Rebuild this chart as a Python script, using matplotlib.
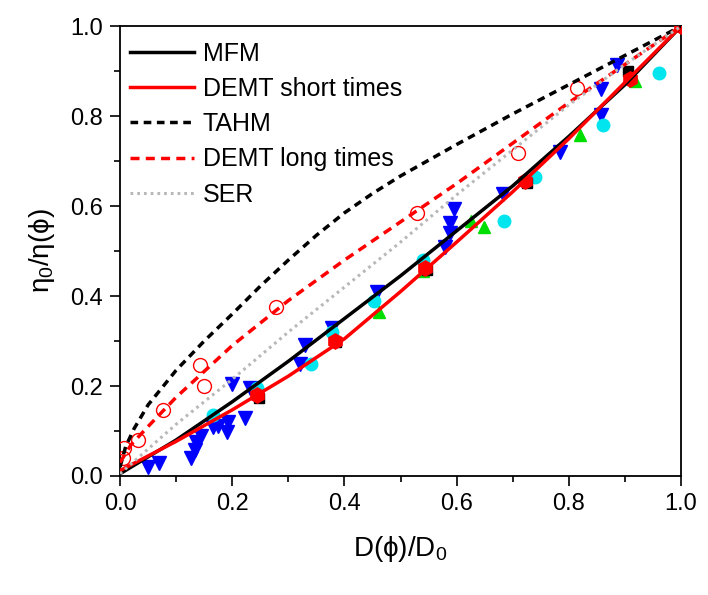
import matplotlib.pyplot as plt
import numpy as np

plt.rcParams['font.family'] = ['Liberation Sans', 'DejaVu Sans']
plt.rcParams['mathtext.fontset'] = 'custom'
plt.rcParams['mathtext.rm'] = 'Liberation Sans'
plt.rcParams['mathtext.it'] = 'Liberation Sans'

# model curves
mfm_x = [0.0, 0.1, 0.2, 0.3, 0.4, 0.5, 0.6, 0.7, 0.8, 0.9, 1.0]
mfm_y = [0.005, 0.08, 0.165, 0.255, 0.35, 0.445, 0.545, 0.645, 0.755, 0.87, 1.0]

short_x = [0.0, 0.1, 0.2, 0.3, 0.4, 0.5, 0.6, 0.7, 0.8, 0.9, 1.0]
short_y = [0.012, 0.077, 0.147, 0.222, 0.305, 0.41, 0.52, 0.632, 0.75, 0.875, 1.0]

tahm_x = [0.0, 0.01, 0.025, 0.05, 0.1, 0.15, 0.2, 0.25, 0.3, 0.35, 0.4, 0.45, 0.5,
          0.6, 0.7, 0.8, 0.9, 1.0]
tahm_y = [0.02, 0.065, 0.105, 0.158, 0.235, 0.3, 0.36, 0.422, 0.48, 0.535, 0.585,
          0.628, 0.667, 0.737, 0.805, 0.87, 0.935, 1.0]

long_x = [0.0, 0.02, 0.05, 0.1, 0.2, 0.3, 0.4, 0.5, 0.6, 0.7, 0.8, 0.9, 1.0]
long_y = [0.03, 0.07, 0.11, 0.175, 0.29, 0.39, 0.48, 0.565, 0.65, 0.74, 0.83, 0.915, 1.0]

ser_x = [0.0, 0.1, 0.2, 0.3, 0.4, 0.5, 0.6, 0.7, 0.8, 0.9, 1.0]
ser_y = [0.005, 0.115, 0.215, 0.32, 0.42, 0.52, 0.625, 0.725, 0.825, 0.915, 1.0]

# data points
blue_x = [0.05, 0.07, 0.127, 0.133, 0.136, 0.145, 0.166, 0.175, 0.19, 0.193, 0.222,
          0.2, 0.232, 0.32, 0.33, 0.378, 0.458, 0.58, 0.588, 0.588, 0.596, 0.683,
          0.785, 0.857, 0.857, 0.885]
blue_y = [0.02, 0.03, 0.04, 0.058, 0.075, 0.088, 0.108, 0.112, 0.097, 0.12, 0.13,
          0.205, 0.196, 0.249, 0.292, 0.33, 0.408, 0.51, 0.54, 0.562, 0.593, 0.626,
          0.72, 0.802, 0.86, 0.913]

cyan_x = [0.165, 0.245, 0.34, 0.378, 0.452, 0.54, 0.685, 0.74, 0.86, 0.96]
cyan_y = [0.135, 0.195, 0.25, 0.32, 0.39, 0.48, 0.568, 0.665, 0.78, 0.895]

green_x = [0.462, 0.54, 0.625, 0.648, 0.82, 0.918]
green_y = [0.365, 0.455, 0.566, 0.553, 0.758, 0.878]

sq_x = [0.247, 0.385, 0.548, 0.725, 0.906, 1.0]
sq_y = [0.174, 0.297, 0.457, 0.652, 0.9, 1.0]

hex_x = [0.244, 0.383, 0.544, 0.722, 0.909, 1.0]
hex_y = [0.179, 0.301, 0.462, 0.655, 0.882, 1.0]

open_x = [0.006, 0.008, 0.032, 0.077, 0.143, 0.15, 0.278, 0.53, 0.71, 0.815]
open_y = [0.04, 0.062, 0.08, 0.147, 0.247, 0.2, 0.376, 0.584, 0.717, 0.862]

fig = plt.figure(figsize=(7.08, 5.95), dpi=100)
ax = fig.add_axes([0.1695, 0.2, 0.7925, 0.756])

ax.plot(blue_x, blue_y, 'v', color='#0000ff', ms=10, mec='#0000ff', zorder=3)
ax.plot(cyan_x, cyan_y, 'o', color='#00e5ee', ms=9, mec='#00e5ee', zorder=3)
ax.plot(green_x, green_y, '^', color='#00dd00', ms=9, mec='#00dd00', zorder=3)
ax.plot(sq_x, sq_y, 's', color='black', ms=6.5, zorder=3)
ax.plot(hex_x, hex_y, 'h', color='#ff0000', ms=11, mec='#ff0000', zorder=4)
ax.plot(open_x, open_y, 'o', mfc='none', mec='#ff0000', ms=10, mew=1.0, zorder=4)

ax.plot(mfm_x, mfm_y, '-', color='black', lw=2.5, label='MFM', zorder=5)
ax.plot(short_x, short_y, '-', color='#ff0000', lw=2.5, label='DEMT short times', zorder=5)
ax.plot(tahm_x, tahm_y, color='black', lw=2.5, dashes=(2.2, 1.6), label='TAHM', zorder=5)
ax.plot(long_x, long_y, color='#ff0000', lw=2.5, dashes=(2.6, 1.8), label='DEMT long times', zorder=5)
ax.plot(ser_x, ser_y, color='#b8b8b8', lw=2.2, dashes=(0.9, 1.3), label='SER', zorder=5)

ax.set_xlim(0, 1)
ax.set_ylim(0, 1)
ax.set_xticks(np.arange(0, 1.01, 0.2))
ax.set_yticks(np.arange(0, 1.01, 0.2))
ax.set_xticks(np.arange(0.1, 1.0, 0.2), minor=True)
ax.set_yticks(np.arange(0.1, 1.0, 0.2), minor=True)
ax.xaxis.set_major_formatter(plt.FormatStrFormatter('%.1f'))
ax.yaxis.set_major_formatter(plt.FormatStrFormatter('%.1f'))
ax.tick_params(which='major', direction='out', length=7, width=1.2, labelsize=17, pad=5)
ax.tick_params(which='minor', direction='out', length=4, width=1.2)
for s in ax.spines.values():
    s.set_linewidth(1.3)

ax.set_xlabel(r'$\mathregular{D(\phi)/D_0}$', fontsize=20, labelpad=14)
ax.set_ylabel(r'$\mathregular{\eta_0/\eta(\phi)}$', fontsize=20, labelpad=10)

ax.legend(loc='upper left', bbox_to_anchor=(0.0, 0.988), frameon=False,
          fontsize=18, handlelength=2.55, handletextpad=0.35,
          labelspacing=0.45, borderaxespad=0.1, borderpad=0.3)

fig.savefig('out.png', dpi=100)
